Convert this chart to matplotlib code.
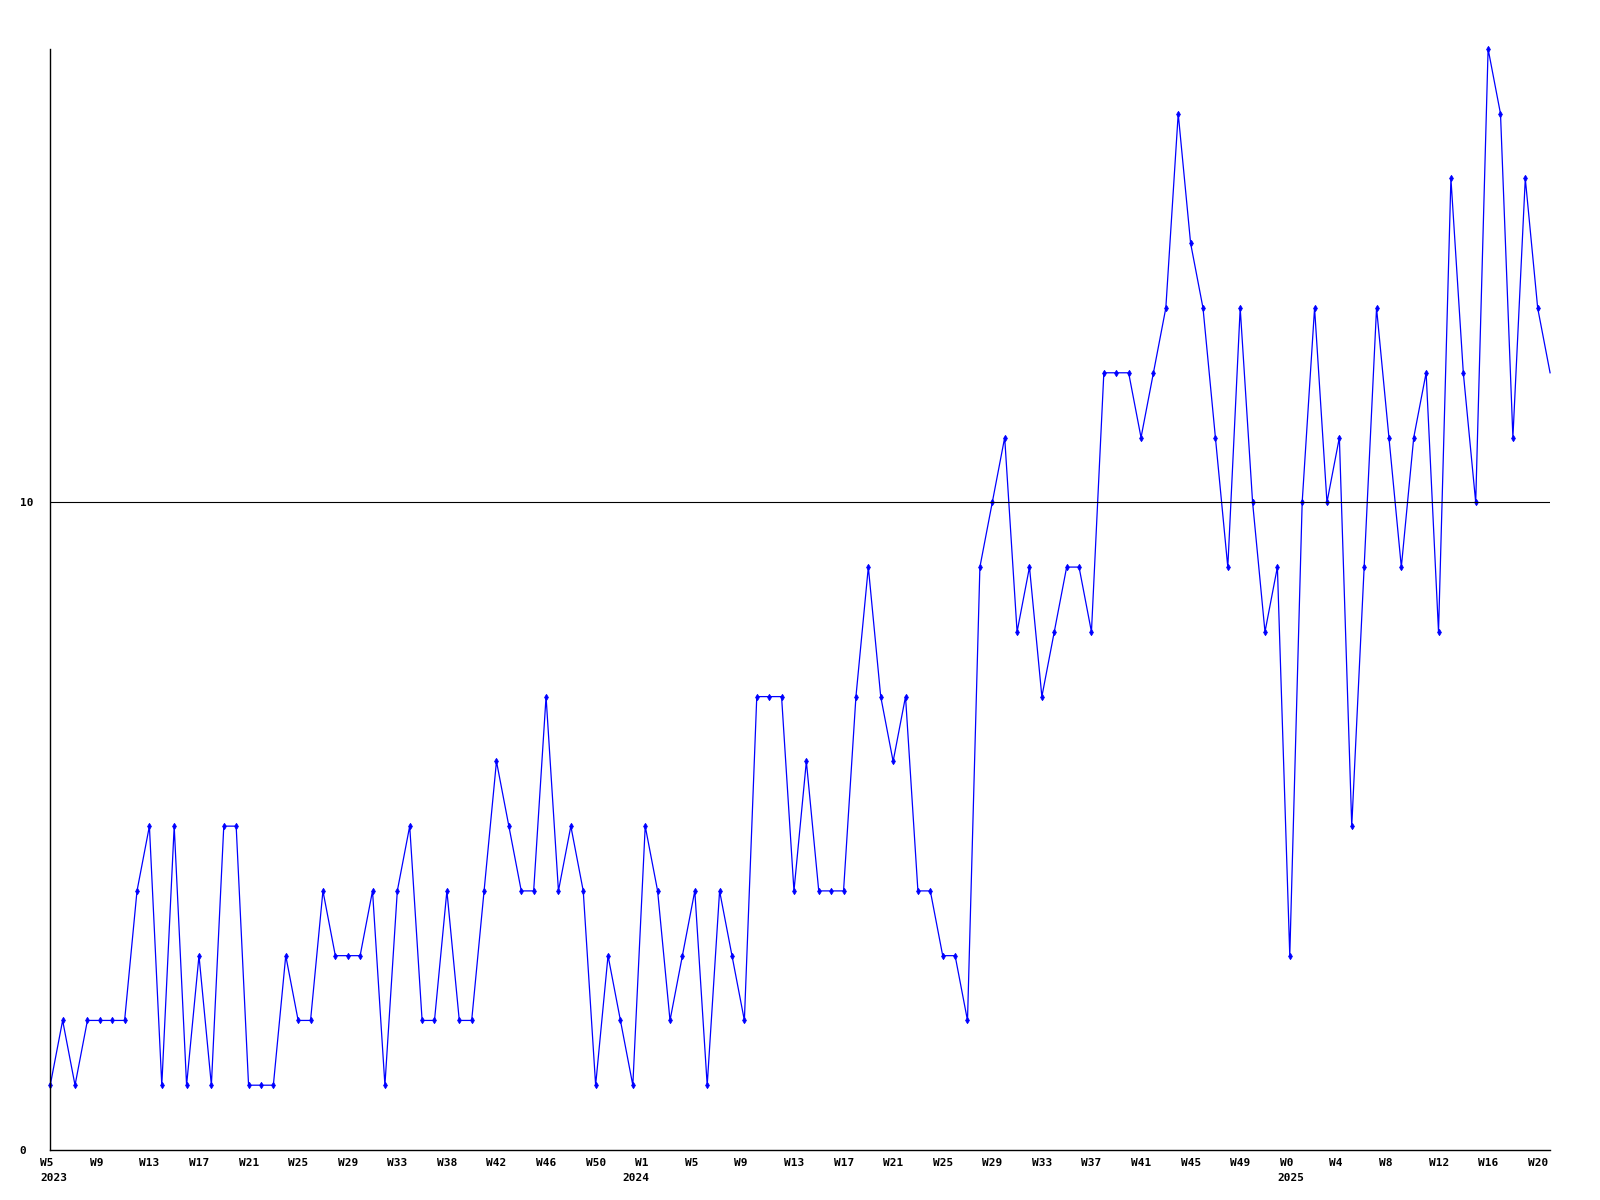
import matplotlib
matplotlib.use("Agg")
import matplotlib.pyplot as plt
from matplotlib.transforms import ScaledTranslation

# weekly counts, W5 2023 .. W21 2025
values = [
    1, 2, 1, 2, 2, 2, 2, 4, 5, 1, 5, 1, 3, 1, 5, 5, 1, 1, 1, 3,
    2, 2, 4, 3, 3, 3, 4, 1, 4, 5, 2, 2, 4, 2, 2, 4, 6, 5, 4, 4,
    7, 4, 5, 4, 1, 3, 2, 1, 5, 4, 2, 3, 4, 1, 4, 3, 2, 7, 7, 7,
    4, 6, 4, 4, 4, 7, 9, 7, 6, 7, 4, 4, 3, 3, 2, 9, 10, 11, 8, 9,
    7, 8, 9, 9, 8, 12, 12, 12, 11, 12, 13, 16, 14, 13, 11, 9, 13, 10, 8, 9,
    3, 10, 13, 10, 11, 5, 9, 13, 11, 9, 11, 12, 8, 15, 12, 10, 17, 16, 11, 15,
    13, 12,
]

week_labels = [
    "W5", "W9", "W13", "W17", "W21", "W25", "W29", "W33", "W38", "W42", "W46", "W50",
    "W1", "W5", "W9", "W13", "W17", "W21", "W25", "W29", "W33", "W37", "W41", "W45", "W49",
    "W0", "W4", "W8", "W12", "W16", "W20",
]
label_step = 4

# year captions: (label index, text, x offset in px)
years = [(0, "2023", -10), (12, "2024", -23), (25, "2025", -12)]

mono = "DejaVu Sans Mono"

fig = plt.figure(figsize=(16, 12), dpi=100)
ax = fig.add_axes([0.0314, 0.0417, 0.9374, 0.9175])

x = list(range(len(values)))
ax.plot(x, values, color="#0000ff", lw=0.9, marker="d", markersize=3.2,
        markeredgewidth=0.6, markevery=slice(0, len(values) - 1), clip_on=False)

ax.axhline(10, color="black", lw=0.8)

ax.set_xlim(0, len(values) - 1)
ax.set_ylim(0, 17)

for side in ("top", "right"):
    ax.spines[side].set_visible(False)
for side in ("left", "bottom"):
    ax.spines[side].set_linewidth(1.0)
    ax.spines[side].set_color("black")

ax.set_yticks([0, 10])
ax.set_yticklabels(["0", "10"], fontfamily=mono, fontweight="bold", fontsize=8,
                   ha="left")
ax.tick_params(axis="y", length=0, pad=22)

tick_pos = [i * label_step for i in range(len(week_labels))]
ax.set_xticks(tick_pos)
ax.set_xticklabels(week_labels, fontfamily=mono, fontweight="bold", fontsize=8,
                   ha="left")
ax.tick_params(axis="x", length=0, pad=6)
shift = ScaledTranslation(-10 / 100, 0, fig.dpi_scale_trans)
for lab in ax.get_xticklabels():
    lab.set_transform(lab.get_transform() + shift)

for idx, txt, dx in years:
    ax.annotate(txt, xy=(tick_pos[idx], 0), xycoords=("data", "axes fraction"),
                xytext=(dx, -23), textcoords="offset pixels",
                ha="left", va="top", fontfamily=mono, fontweight="bold",
                fontsize=8, annotation_clip=False)

fig.savefig("out.png", dpi=100, facecolor="white")
